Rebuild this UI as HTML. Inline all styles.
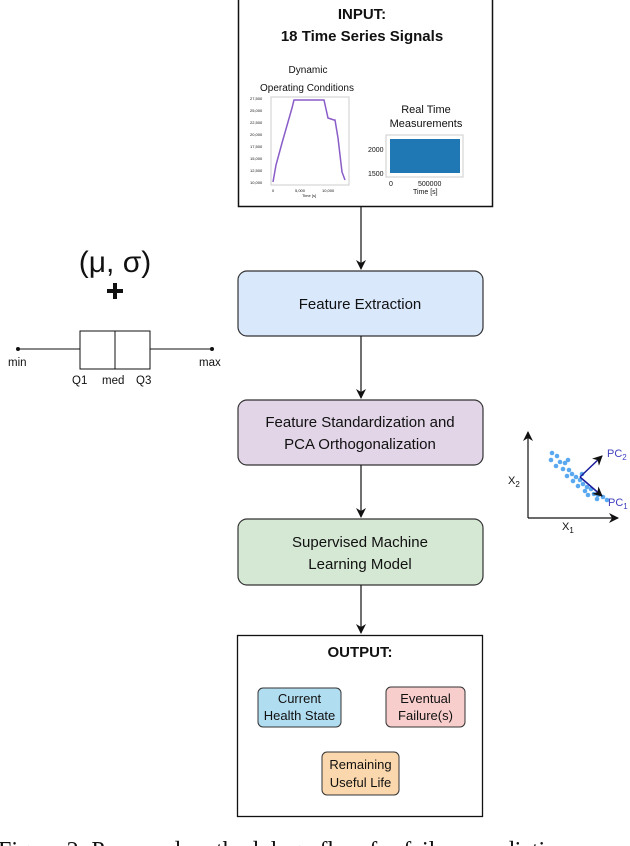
<!DOCTYPE html>
<html><head><meta charset="utf-8"><style>
html,body{margin:0;padding:0;background:#fff;width:630px;height:846px;overflow:hidden}
svg{display:block}
text{font-family:"Liberation Sans",sans-serif;fill:#111}
</style></head><body>
<svg width="630" height="846" viewBox="0 0 630 846" xmlns="http://www.w3.org/2000/svg">
<defs><marker id="a" markerWidth="10" markerHeight="10" refX="9" refY="5" orient="auto" markerUnits="userSpaceOnUse"><path d="M0,0 L10,5 L0,10 L3,5 z" fill="#111"/></marker></defs>
<!-- input box -->
<rect x="238.5" y="-2" width="254" height="208.5" fill="#fff" stroke="#111" stroke-width="1.5"/>
<text x="362" y="19" font-size="15" font-weight="bold" text-anchor="middle">INPUT:</text>
<text x="362" y="41" font-size="15" font-weight="bold" text-anchor="middle">18 Time Series Signals</text>
<text x="308" y="73" font-size="10" text-anchor="middle">Dynamic</text>
<text x="307" y="91" font-size="10" text-anchor="middle">Operating Conditions</text>
<rect x="271" y="97" width="78" height="88" fill="#fff" stroke="#ccc"/>
<g font-size="4" fill="#555"><text x="250" y="100">27,500</text><text x="250" y="112">25,000</text><text x="250" y="124">22,500</text><text x="250" y="136">20,000</text><text x="250" y="148">17,500</text><text x="250" y="160">15,000</text><text x="250" y="172">12,500</text><text x="250" y="184">10,000</text>
<text x="272" y="192">0</text><text x="295" y="192">5,000</text><text x="322" y="192">10,000</text><text x="302" y="197">Time [s]</text></g>
<polyline points="273,182 276,165 282,143 288,122 292,108 294,100 324,100 328,118 334,120 335,120 338,138 342,172 345,180" fill="none" stroke="#8a5cc8" stroke-width="1.5"/>
<text x="426" y="113" font-size="11" text-anchor="middle">Real Time</text>
<text x="426" y="127" font-size="11" text-anchor="middle">Measurements</text>
<rect x="386" y="135" width="77" height="42" fill="#fff" stroke="#ccc"/>
<rect x="390" y="139" width="70" height="34" fill="#1f77b4"/>
<g font-size="7" fill="#222"><text x="368" y="152">2000</text><text x="368" y="176">1500</text><text x="389" y="186">0</text><text x="418" y="186">500000</text><text x="413" y="194">Time [s]</text></g>
<line x1="361" y1="207" x2="361" y2="269" stroke="#111" stroke-width="1.2" marker-end="url(#a)"/>
<!-- flow boxes -->
<rect x="238" y="271" width="245" height="65" rx="9" fill="#dae8fc" stroke="#333" stroke-width="1.2"/>
<text x="360" y="309" font-size="15" text-anchor="middle">Feature Extraction</text>
<line x1="361" y1="336" x2="361" y2="398" stroke="#111" stroke-width="1.2" marker-end="url(#a)"/>
<rect x="238" y="400" width="245" height="65" rx="9" fill="#e1d5e7" stroke="#333" stroke-width="1.2"/>
<text x="360" y="427" font-size="15" text-anchor="middle">Feature Standardization and</text>
<text x="360" y="449" font-size="15" text-anchor="middle">PCA Orthogonalization</text>
<line x1="361" y1="465" x2="361" y2="517" stroke="#111" stroke-width="1.2" marker-end="url(#a)"/>
<rect x="238" y="519" width="245" height="66" rx="9" fill="#d5e8d4" stroke="#333" stroke-width="1.2"/>
<text x="360" y="547" font-size="15" text-anchor="middle">Supervised Machine</text>
<text x="360" y="569" font-size="15" text-anchor="middle">Learning Model</text>
<line x1="361" y1="585" x2="361" y2="633" stroke="#111" stroke-width="1.2" marker-end="url(#a)"/>
<!-- output -->
<rect x="237.5" y="635.5" width="245" height="181" fill="#fff" stroke="#111" stroke-width="1.3"/>
<text x="360" y="657" font-size="15" font-weight="bold" text-anchor="middle">OUTPUT:</text>
<rect x="258" y="688" width="83" height="39" rx="5" fill="#b1ddf0" stroke="#333"/>
<text x="299.5" y="703" font-size="13" text-anchor="middle">Current</text>
<text x="299.5" y="720" font-size="13" text-anchor="middle">Health State</text>
<rect x="386" y="687" width="79" height="40" rx="5" fill="#f8cecc" stroke="#333"/>
<text x="425.5" y="703" font-size="13" text-anchor="middle">Eventual</text>
<text x="425.5" y="720" font-size="13" text-anchor="middle">Failure(s)</text>
<rect x="322" y="752" width="77" height="43" rx="5" fill="#fad7ac" stroke="#333"/>
<text x="360.5" y="769" font-size="13" text-anchor="middle">Remaining</text>
<text x="360.5" y="787" font-size="13" text-anchor="middle">Useful Life</text>
<!-- boxplot -->
<text x="115" y="272" font-size="30" text-anchor="middle">(μ, σ)</text>
<rect x="107" y="289" width="16" height="4" fill="#111"/><rect x="113" y="283" width="4" height="16" fill="#111"/>
<line x1="18" y1="349" x2="80" y2="349" stroke="#111"/><line x1="150" y1="349" x2="212" y2="349" stroke="#111"/>
<circle cx="18" cy="349" r="2" fill="#111"/><circle cx="212" cy="349" r="2" fill="#111"/>
<rect x="80" y="331" width="70" height="38" fill="#fff" stroke="#111"/>
<line x1="115" y1="331" x2="115" y2="369" stroke="#111"/>
<g font-size="11.5"><text x="8" y="366">min</text><text x="199" y="366">max</text><text x="72" y="384">Q1</text><text x="102" y="384">med</text><text x="136" y="384">Q3</text></g>
<!-- PCA -->
<line x1="528" y1="518" x2="528" y2="432" stroke="#111" stroke-width="1.2" marker-end="url(#a)"/>
<line x1="528" y1="518" x2="618" y2="518" stroke="#111" stroke-width="1.2" marker-end="url(#a)"/>
<g fill="#5aa9f0">
<circle cx="552" cy="453" r="2.3"/><circle cx="557" cy="456" r="2.3"/><circle cx="551" cy="460" r="2.3"/><circle cx="560" cy="462" r="2.3"/><circle cx="565" cy="463" r="2.3"/><circle cx="556" cy="466" r="2.3"/><circle cx="563" cy="469" r="2.3"/><circle cx="569" cy="470" r="2.3"/><circle cx="572" cy="474" r="2.3"/><circle cx="567" cy="476" r="2.3"/><circle cx="576" cy="477" r="2.3"/><circle cx="573" cy="481" r="2.3"/><circle cx="580" cy="480" r="2.3"/><circle cx="583" cy="484" r="2.3"/><circle cx="578" cy="486" r="2.3"/><circle cx="587" cy="487" r="2.3"/><circle cx="591" cy="489" r="2.3"/><circle cx="585" cy="491" r="2.3"/><circle cx="594" cy="494" r="2.3"/><circle cx="588" cy="495" r="2.3"/><circle cx="598" cy="495" r="2.3"/><circle cx="603" cy="497" r="2.3"/><circle cx="597" cy="499" r="2.3"/><circle cx="607" cy="500" r="2.3"/><circle cx="568" cy="460" r="2.3"/><circle cx="582" cy="474" r="2.3"/>
</g>
<line x1="580" y1="477" x2="602" y2="456" stroke="#1a1a9a" stroke-width="1.5" marker-end="url(#a)"/>
<line x1="580" y1="477" x2="602" y2="496" stroke="#1a1a9a" stroke-width="1.5" marker-end="url(#a)"/>
<text x="607" y="457" font-size="11" style="fill:#4040c0">PC<tspan font-size="8" dy="3">2</tspan></text>
<text x="608" y="506" font-size="11" style="fill:#4040c0">PC<tspan font-size="8" dy="3">1</tspan></text>
<text x="508" y="484" font-size="11">X<tspan font-size="8" dy="3">2</tspan></text>
<text x="562" y="530" font-size="11">X<tspan font-size="8" dy="3">1</tspan></text>
<!-- caption -->
<text x="-2" y="858" font-size="24" style="font-family:'Liberation Serif',serif">Figure 2: Proposed methodology flow for failure predicti</text>
</svg>
</body></html>
